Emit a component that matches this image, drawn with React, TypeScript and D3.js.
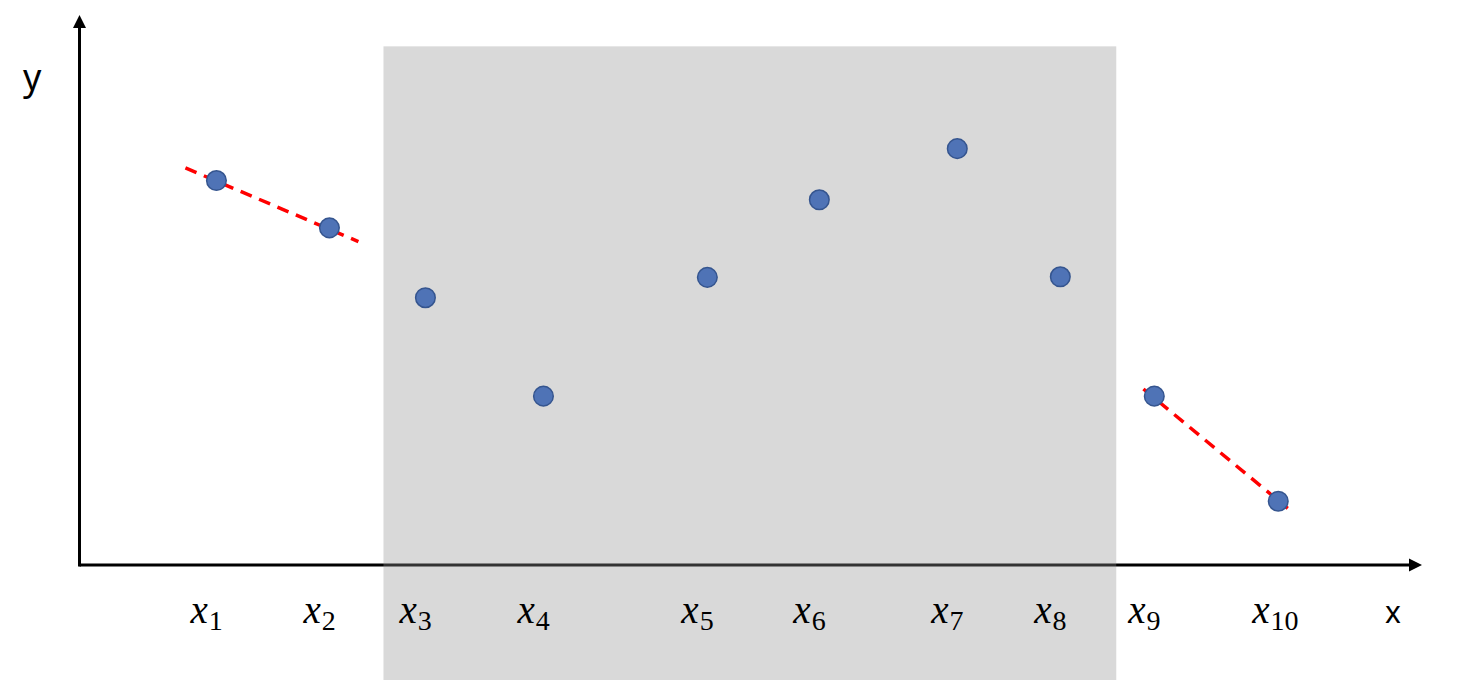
import { useEffect, useRef } from "react";
import * as d3 from "d3";

const width = 1476,
  height = 680;

// point positions
const labels = ["1", "2", "3", "4", "5", "6", "7", "8", "9", "10"];
const xValues = [1.224, 2.234, 3.092, 4.147, 5.612, 6.613, 7.846, 8.767, 9.607, 10.715];
const yValues = [6.99, 6.13, 4.86, 3.07, 5.23, 6.64, 7.57, 5.24, 3.07, 1.16];

// shaded window (x range) and its top
const shadeX = [2.717, 9.267];
const shadeTop = 9.43;

// dashed fit segments: [x start, y start, x end, y end]
const fitLines = [
  [0.947, 7.22, 2.493, 5.88],
  [9.51, 3.2, 10.8, 1.03],
];

function App() {
  const svgRef = useRef(null);

  const buildSVG = () => {
    const svg = d3.select(svgRef.current);
    svg.selectAll("*").remove();

    const x = d3.scaleLinear().domain([0, 12]).range([79.5, 1422]);
    const y = d3.scaleLinear().domain([0, 10]).range([565, 15]);

    // x axis line (under the shade)
    svg
      .append("line")
      .attr("x1", x(0))
      .attr("x2", x(12) - 11)
      .attr("y1", y(0))
      .attr("y2", y(0))
      .attr("stroke", "black")
      .attr("stroke-width", 3);
    svg
      .append("path")
      .attr(
        "d",
        `M${x(12)},${y(0)} L${x(12) - 13},${y(0) - 6.5} L${x(12) - 13},${y(0) + 6.5} Z`
      )
      .attr("fill", "black");

    // shaded window
    svg
      .append("rect")
      .attr("x", x(shadeX[0]))
      .attr("y", y(shadeTop))
      .attr("width", x(shadeX[1]) - x(shadeX[0]))
      .attr("height", height - y(shadeTop))
      .attr("fill", "#929292")
      .attr("fill-opacity", 0.35);

    // y axis
    svg
      .append("line")
      .attr("x1", x(0))
      .attr("x2", x(0))
      .attr("y1", y(0) + 1.5)
      .attr("y2", y(10) + 11)
      .attr("stroke", "black")
      .attr("stroke-width", 3);
    svg
      .append("path")
      .attr(
        "d",
        `M${x(0)},${y(10)} L${x(0) - 6.5},${y(10) + 13} L${x(0) + 6.5},${y(10) + 13} Z`
      )
      .attr("fill", "black");

    // dashed lines
    svg
      .selectAll("fitline")
      .data(fitLines)
      .enter()
      .append("line")
      .attr("x1", (d) => x(d[0]))
      .attr("y1", (d) => y(d[1]))
      .attr("x2", (d) => x(d[2]))
      .attr("y2", (d) => y(d[3]))
      .attr("stroke", "#ff0000")
      .attr("stroke-width", 3.5)
      .attr("stroke-dasharray", "12,8");

    // points
    svg
      .selectAll("mycircle")
      .data(xValues)
      .enter()
      .append("circle")
      .attr("cx", (d) => x(d))
      .attr("cy", (d, i) => y(yValues[i]))
      .attr("r", 9.8)
      .attr("fill", "#4f73b6")
      .attr("stroke", "#35558f")
      .attr("stroke-width", 1.5);

    // tick labels x_i
    const lab = svg
      .selectAll("mylabel")
      .data(labels)
      .enter()
      .append("text")
      .attr("x", (d, i) => x(xValues[i]) - 26)
      .attr("y", 623)
      .attr("font-family", "'Liberation Serif', serif")
      .attr("fill", "#000");
    lab
      .append("tspan")
      .attr("font-style", "italic")
      .attr("font-size", 39)
      .text("x");
    lab
      .append("tspan")
      .attr("font-size", 28)
      .attr("dy", 7)
      .attr("dx", 1)
      .text((d) => d);

    // axis names
    svg
      .append("text")
      .attr("x", 23)
      .attr("y", 90)
      .attr("font-family", "'Noto Sans', sans-serif")
      .attr("font-size", 36)
      .text("y");
    svg
      .append("text")
      .attr("x", 1385)
      .attr("y", 623)
      .attr("font-family", "'Noto Sans', sans-serif")
      .attr("font-size", 30)
      .text("x");
  };

  useEffect(buildSVG, []);

  return (
    <svg
      ref={svgRef}
      width={width}
      height={height}
      style={{ position: "absolute", left: 0, top: 0, background: "white" }}
    ></svg>
  );
}

export default App;
